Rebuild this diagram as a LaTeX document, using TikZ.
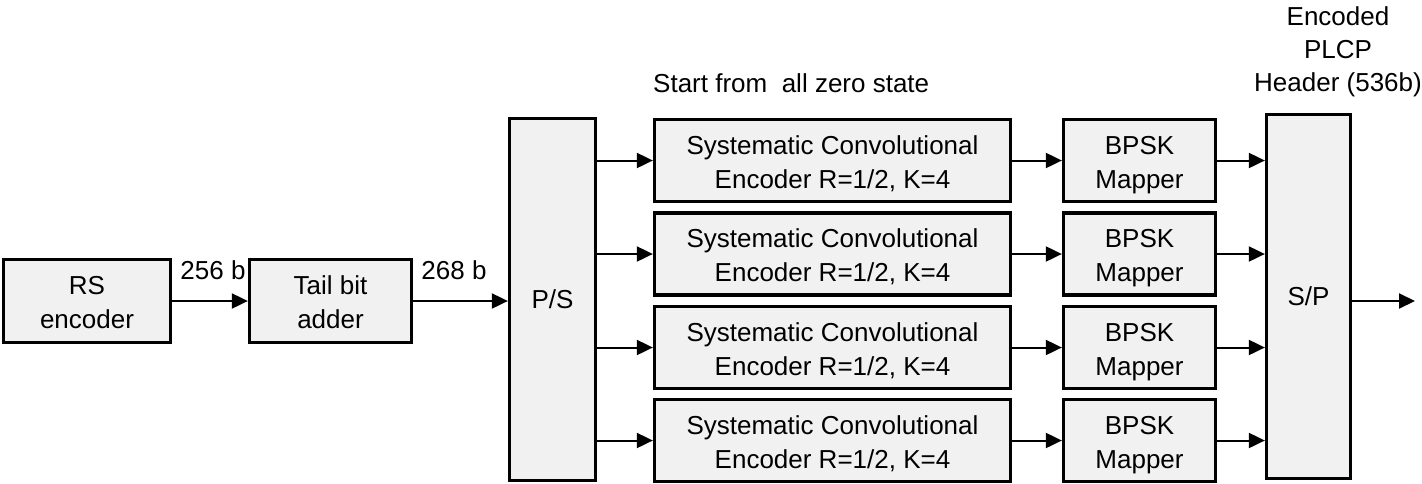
\documentclass[tikz,border=0pt]{standalone}
\usepackage{fontspec}
\setmainfont{Liberation Sans}
\usetikzlibrary{arrows.meta}
\definecolor{boxfill}{HTML}{F1F1F1}
\newcommand\blktext[2]{\raisebox{-4pt}[\height][\depth]{\begin{tabular}{@{}c@{}}#1\\#2\end{tabular}}}
\begin{document}
\begin{tikzpicture}[x=1pt,y=-1pt,
  blk/.style={draw=black, line width=3.3pt, fill=boxfill, inner sep=0pt, align=center, font=\fontsize{26}{34}\selectfont},
  arr/.style={line width=2pt, -{Triangle[length=16pt,width=15pt]}},
  lbl/.style={inner sep=0pt, align=center, font=\fontsize{26}{33}\selectfont}]
\useasboundingbox (0,0) rectangle (1422,483);
\node[blk, minimum width=167pt, minimum height=83pt] (rs) at (87,301) {\blktext{RS}{encoder}};
\node[blk, minimum width=162pt, minimum height=83pt] (tb) at (330.5,301) {\blktext{Tail bit}{adder}};
\node[blk, minimum width=86pt, minimum height=362pt] (ps) at (552.5,299.5) {P/S};
\foreach \i/\y in {1/160.5,2/254,3/347.5,4/440.5}{
  \node[blk, minimum width=356pt, minimum height=82pt] (e\i) at (832.5,\y) {\blktext{Systematic Convolutional}{Encoder R=1/2, K=4}};
  \node[blk, minimum width=152pt, minimum height=82pt] (b\i) at (1139.5,\y) {\blktext{BPSK}{Mapper}};
}
\node[blk, minimum width=84pt, minimum height=364pt] (sp) at (1308.5,296.5) {S/P};
\coordinate (out) at (1415,301);
\draw[arr] (rs.east) -- (tb.west);
\draw[arr] (tb.east) -- (tb.east -| ps.west);
\foreach \i in {1,...,4}{
  \draw[arr] (ps.east |- e\i.west) -- (e\i.west);
  \draw[arr] (e\i.east) -- (b\i.west);
  \draw[arr] (b\i.east) -- (sp.west |- b\i.east);
}
\draw[arr] (sp.east |- out) -- (out);
\node[lbl, anchor=base] (l256) at (213,279) {256 b};
\node[lbl, anchor=base] (l268) at (454,279) {268 b};
\node[lbl, anchor=base west] (start) at (653,92) {Start from\ \ all zero state};
\node[lbl] (hdr) at (1338,52) {Encoded\\PLCP\\Header (536b)};
\end{tikzpicture}
\end{document}
